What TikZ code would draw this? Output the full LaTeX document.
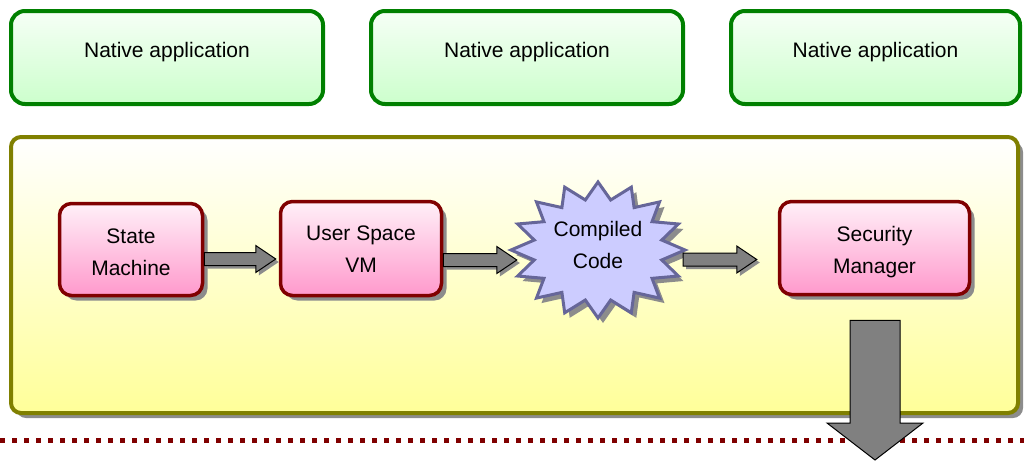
\documentclass[tikz,border=0pt]{standalone}
\usepackage{fontspec}
\setmainfont{Liberation Sans}
\usetikzlibrary{calc,shadows,shapes.geometric}
\definecolor{appgreen}{HTML}{008000}
\definecolor{apptop}{HTML}{F6FFF6}
\definecolor{appbot}{HTML}{CCFFCC}
\definecolor{olivec}{HTML}{808000}
\definecolor{ylw}{HTML}{FFFF99}
\definecolor{dred}{HTML}{800000}
\definecolor{pinktop}{HTML}{FFF0F8}
\definecolor{pinkbot}{HTML}{FF99CC}
\definecolor{starfill}{HTML}{CCCCFF}
\definecolor{stardraw}{HTML}{666699}
\definecolor{shad}{HTML}{8C8C8C}
\definecolor{arrgray}{HTML}{808080}
\begin{document}
\begin{tikzpicture}[x=1pt,y=-1pt,
  every node/.style={font=\fontsize{21}{32}\selectfont, text=black},
  appbox/.style={rectangle, rounded corners=14pt, draw=appgreen, line width=4pt,
    top color=apptop, bottom color=appbot, minimum height=93pt, inner sep=0pt},
  osbox/.style={rectangle, rounded corners=10pt, draw=olivec, line width=4pt,
    top color=white, bottom color=ylw, minimum width=1007pt, minimum height=276pt,
    drop shadow={shadow xshift=5pt, shadow yshift=-5pt, fill=shad, opacity=1}},
  compbox/.style={rectangle, rounded corners=12pt, draw=dred, line width=3.5pt,
    top color=pinktop, bottom color=pinkbot, inner sep=0pt,
    drop shadow={shadow xshift=5pt, shadow yshift=-5pt, fill=shad, opacity=1}},
  blockarr/.style={fill=arrgray, draw=black, line width=1pt, line join=miter},
  arrshadow/.style={fill=shad},
  dotline/.style={draw=dred, line width=5pt, dash pattern=on 5pt off 7pt}
]
\useasboundingbox (0,0) rectangle (1024,461);

% native applications
\node[appbox, minimum width=312pt] (app1) at (167,57.5) {};
\node[appbox, minimum width=312pt] (app2) at (527,57.5) {};
\node[appbox, minimum width=289pt] (app3) at (875.5,57.5) {};
\node (t1) at ($(app1.center)+(0,-5)$) {Native application};
\node (t2) at ($(app2.center)+(0,-5)$) {Native application};
\node (t3) at ($(app3.center)+(0,-5)$) {Native application};

% dotted line
\coordinate (dl) at (0,440);
\coordinate (dr) at (1024,440);
\draw[dotline] (dl) -- (dr);

% OS box
\node[osbox] (os) at (514.5,275) {};

% components
\node[compbox, minimum width=143pt, minimum height=92pt] (sm) at (131,249.5) {};
\node[compbox, minimum width=161pt, minimum height=94pt] (vm) at (361,248.5) {};
\node[compbox, minimum width=190pt, minimum height=93pt] (sec) at (874.5,248) {};
\node[align=center] (smt) at ($(sm.center)+(0,3)$) {State\\Machine};
\node[align=center] (vmt) at ($(vm.center)+(0,1)$) {User Space\\VM};
\node[align=center] (sect) at ($(sec.center)+(0,4)$) {Security\\Manager};

% compiled code star
\node[ellipse, minimum width=174pt, minimum height=136pt, inner sep=0pt] (cc) at (598,250) {};
\begin{scope}[shift={($(cc.center)+(5,5)$)}]
  \fill[shad] (0:87 and 68) \foreach \i in {1,...,31} { -- ({\i*11.25}:{87-22*mod(\i,2)} and {68-17*mod(\i,2)}) } -- cycle;
\end{scope}
\begin{scope}[shift={(cc.center)}]
  \filldraw[fill=starfill, draw=stardraw, line width=3pt, line join=miter] (0:87 and 68) \foreach \i in {1,...,31} { -- ({\i*11.25}:{87-22*mod(\i,2)} and {68-17*mod(\i,2)}) } -- cycle;
\end{scope}
\node[align=center] (cct) at ($(cc.center)+(0,-5.5)$) {Compiled\\Code};

% horizontal block arrows
\coordinate (a1s) at ($(sm.east)+(0,9.5)$);
\coordinate (a1e) at ($(a1s -| vm.west)+(-3,0)$);
\coordinate (a2s) at ($(vm.east)+(0,11.5)$);
\coordinate (a2e) at ($(a2s -| cc.west)+(6,0)$);
\coordinate (a3s) at ($(cc.east)+(-2,9.5)$);
\coordinate (a3e) at ($(a3s -| sec.west)+(-21,0)$);
\foreach \s/\e in {a1s/a1e, a2s/a2e, a3s/a3e} {
  \fill[arrshadow] ($(\s)+(3,3)+(0,-6.5)$) -- ($(\e)+(3,3)+(-20,-6.5)$) -- ($(\e)+(3,3)+(-20,-13.5)$) -- ($(\e)+(3,3)$) -- ($(\e)+(3,3)+(-20,13.5)$) -- ($(\e)+(3,3)+(-20,6.5)$) -- ($(\s)+(3,3)+(0,6.5)$) -- cycle;
  \filldraw[blockarr] ($(\s)+(0,-6.5)$) -- ($(\e)+(-20,-6.5)$) -- ($(\e)+(-20,-13.5)$) -- (\e) -- ($(\e)+(-20,13.5)$) -- ($(\e)+(-20,6.5)$) -- ($(\s)+(0,6.5)$) -- cycle;
}

% down arrow
\coordinate (ds) at ($(sec.south)+(0.5,24)$);
\coordinate (de) at (ds |- 0,460);
\filldraw[blockarr] ($(ds)+(-25,0)$) -- ($(ds)+(25,0)$) -- ($(de)+(25,-37)$) -- ($(de)+(48,-37)$) -- (de) -- ($(de)+(-48,-37)$) -- ($(de)+(-25,-37)$) -- cycle;
\end{tikzpicture}
\end{document}
